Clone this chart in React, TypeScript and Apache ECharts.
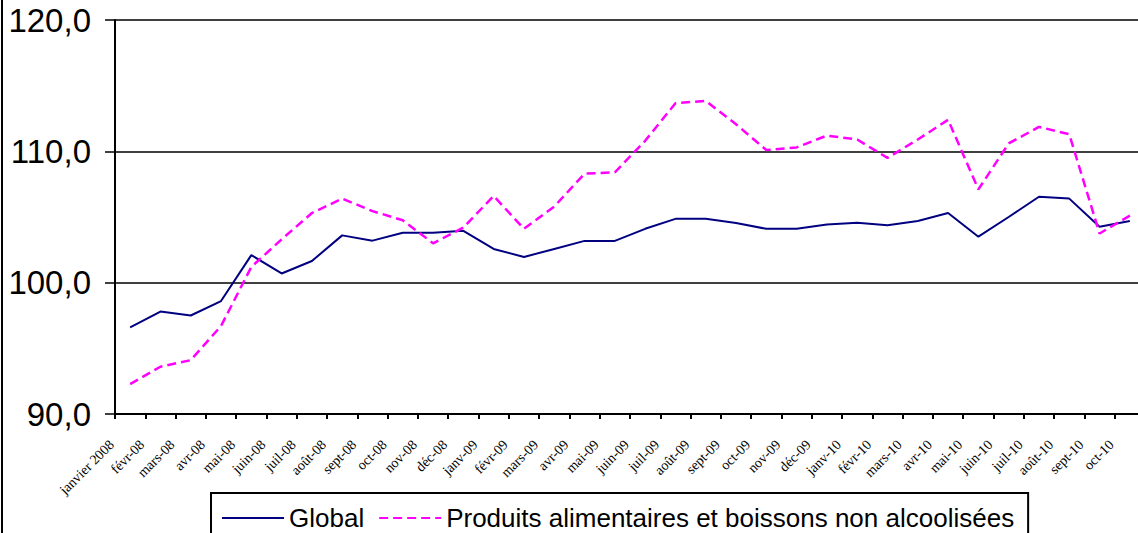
import React, { useEffect, useRef } from "react";
import * as echarts from "echarts";

const categories = [
  "janvier 2008", "févr-08", "mars-08", "avr-08", "mai-08", "juin-08", "juil-08", "août-08", "sept-08", "oct-08", "nov-08", "déc-08",
  "janv-09", "févr-09", "mars-09", "avr-09", "mai-09", "juin-09", "juil-09", "août-09", "sept-09", "oct-09", "nov-09", "déc-09",
  "janv-10", "févr-10", "mars-10", "avr-10", "mai-10", "juin-10", "juil-10", "août-10", "sept-10", "oct-10",
];

const globalValues = [
  96.6, 97.8, 97.5, 98.6, 102.1, 100.7, 101.65, 103.6, 103.2, 103.8, 103.8, 103.95,
  102.57, 101.96, 102.57, 103.18, 103.18, 104.1, 104.86, 104.86, 104.55, 104.1, 104.1, 104.43,
  104.56, 104.38, 104.7, 105.3, 103.5, 105.0, 106.54, 106.4, 104.25, 104.7,
];

const alimValues = [
  92.27, 93.6, 94.1, 96.7, 101.2, 103.3, 105.3, 106.4, 105.45, 104.75, 103.0, 104.2,
  106.6, 104.1, 105.8, 108.3, 108.4, 110.8, 113.66, 113.84, 112.06, 110.1, 110.3, 111.2,
  110.9, 109.5, 110.9, 112.4, 107.1, 110.6, 111.86, 111.3, 103.74, 105.1,
];

const seriesNames = ["Global", "Produits alimentaires et boissons non alcoolisées"];

export default function App() {
  const ref = useRef<HTMLDivElement>(null);
  useEffect(() => {
    if (!ref.current) return;
    const chart = echarts.init(ref.current, undefined, { renderer: "svg" });
    chart.setOption({
      animation: false,
      backgroundColor: "#fff",
      grid: { left: 115, right: 15, top: 20, bottom: 119, containLabel: false },
      legend: {
        left: 211,
        top: 493,
        orient: "horizontal",
        itemWidth: 62,
        itemHeight: 14,
        itemGap: 14,
        padding: [12, 14, 20, 10],
        borderColor: "#000",
        borderWidth: 2,
        itemStyle: { opacity: 0 },
        textStyle: { fontSize: 26, fontFamily: "Liberation Sans, Arial", color: "#000" },
        data: seriesNames,
      },
      xAxis: {
        type: "category",
        data: categories,
        boundaryGap: true,
        axisLine: { lineStyle: { color: "#000", width: 2 } },
        axisTick: { show: true, length: 5, lineStyle: { color: "#000", width: 2 } },
        axisLabel: {
          interval: 0,
          rotate: 45,
          margin: 10,
          padding: [0, 26, 0, 0],
          fontSize: 14,
          fontFamily: "Liberation Serif, Times New Roman, serif",
          color: "#000",
        },
        splitLine: { show: false },
      },
      yAxis: {
        type: "value",
        min: 90,
        max: 120,
        interval: 10,
        axisLine: { show: true, lineStyle: { color: "#000", width: 2 } },
        axisTick: { show: true, length: 10, lineStyle: { color: "#000", width: 1.5 } },
        axisLabel: {
          margin: 24,
          fontSize: 33,
          fontFamily: "Liberation Sans, Arial",
          color: "#000",
          formatter: (v: number) => v.toFixed(1).replace(".", ","),
        },
        splitLine: { show: true, lineStyle: { color: "#000", width: 1.5 } },
      },
      series: [
        {
          name: seriesNames[0],
          type: "line",
          data: globalValues,
          symbol: "none",
          lineStyle: { color: "#000080", width: 2 },
          itemStyle: { color: "#000080" },
        },
        {
          name: seriesNames[1],
          type: "line",
          data: alimValues,
          symbol: "none",
          lineStyle: { color: "#FF00FF", width: 2.5, type: [9, 5] },
          itemStyle: { color: "#FF00FF" },
        },
      ],
      graphic: [
        {
          type: "line",
          shape: { x1: 2, y1: 0, x2: 2, y2: 533 },
          style: { stroke: "#000", lineWidth: 2 },
        },
      ],
    });
    return () => chart.dispose();
  }, []);
  return (
    <div style={{ position: "absolute", left: 0, top: 0, width: 1138, height: 533, overflow: "hidden", background: "#fff" }}>
      <div ref={ref} style={{ width: 1160, height: 533 }} />
    </div>
  );
}
